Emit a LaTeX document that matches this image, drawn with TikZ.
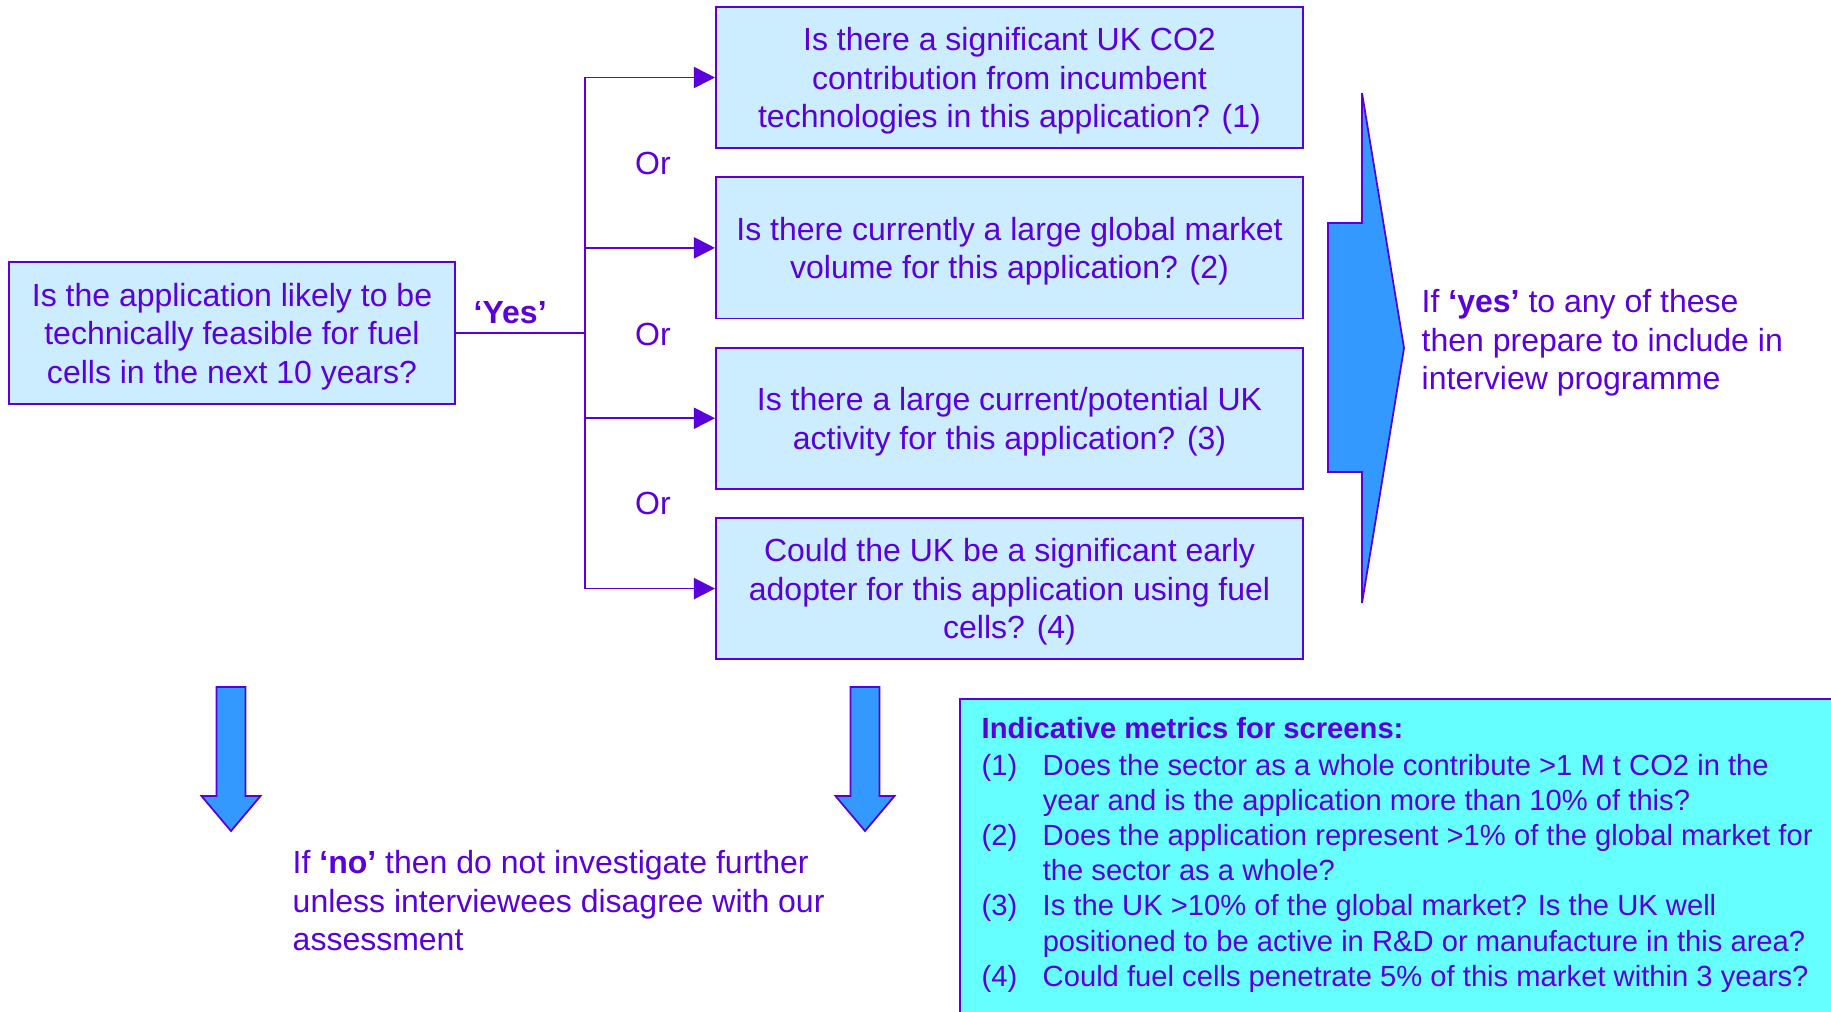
\documentclass[tikz,border=0pt]{standalone}
\usepackage{fontspec}
\setmainfont{Liberation Sans}
\usepackage{tikz}
\usetikzlibrary{arrows.meta, positioning}
\definecolor{ink}{RGB}{90,0,220}
\definecolor{boxblue}{RGB}{204,236,255}
\definecolor{arrowblue}{RGB}{51,153,255}
\definecolor{metriccyan}{RGB}{102,255,255}
\tikzset{
  qbox/.style={rectangle,draw=ink,fill=boxblue,line width=0.5pt,
               minimum width=5.87cm,minimum height=1.41cm,inner sep=0pt,
               font=\fontsize{9.1}{10.95}\selectfont,text=ink,align=center,text depth=0pt},
  txt/.style={font=\fontsize{9.1}{10.95}\selectfont,text=ink,inner sep=0pt},
  arr/.style={-{Triangle[length=0.21cm,width=0.21cm]},line width=0.5pt,draw=ink},
  conn/.style={line width=0.5pt,draw=ink},
  fat/.style={draw=ink,fill=arrowblue,line width=0.5pt,line join=miter},
}

\begin{document}
\begin{tikzpicture}[x=0.01cm,y=-0.01cm,node distance=0.275cm]
  \useasboundingbox (0,0) rectangle (1831,1011);
  \node[qbox,minimum width=4.46cm,minimum height=1.42cm](feas) at (232,333)
    {Is the application likely to be\\technically feasible for fuel\\cells in the next 10 years?};
  \node[qbox](q1) at (1009.5,77.5)
    {Is there a significant UK CO2\\contribution from incumbent\\technologies in this application? (1)};
  \node[qbox,below=of q1](q2){Is there currently a large global market\\volume for this application? (2)};
  \node[qbox,below=of q2](q3){Is there a large current/potential UK\\activity for this application? (3)};
  \node[qbox,below=of q3](q4){Could the UK be a significant early\\adopter for this application using fuel\\cells? (4)};
  \coordinate (split) at (585,333);
  \draw[conn](feas)--node[txt,above=2.3pt,pos=0.42](yes){\textbf{‘Yes’}}(split);
  \foreach \q in {q1,q2,q3,q4}
    \draw[arr](split)|-(\q.west);
  \node[txt](or1) at (653,163){Or};
  \node[txt](or2) at (653,334){Or};
  \node[txt](or3) at (653,503){Or};
  \draw[fat](1362,93)--(1404,348)--(1362,603)--(1362,472)--(1328,472)--(1328,223)--(1362,223)--cycle;
  \node[txt,anchor=west,align=left](yesnote) at (1421,343)
    {If \textbf{‘yes’} to any of these\\then prepare to include in\\interview programme};
  \foreach \cx in {231,865}
    \draw[fat](\cx-14.5,687)--(\cx+14.5,687)--(\cx+14.5,796)--(\cx+29.5,796)--(\cx,831)
      --(\cx-29.5,796)--(\cx-14.5,796)--cycle;
  \node[txt,anchor=west,align=left](nonote) at (292,901)
    {If \textbf{‘no’} then do not investigate further\\unless interviewees disagree with our\\assessment};
  \draw[conn,fill=metriccyan](960,699) rectangle (1840,1020);
  \node[anchor=north west,inner sep=0pt,text=ink,font=\fontsize{8.3}{10}\selectfont](metrics) at (981,713){%
    \begin{tabular}{@{}p{0.61cm}@{}l@{}}
      \multicolumn{2}{@{}l@{}}{\textbf{Indicative metrics for screens:}}\\[0.5pt]
      (1) & Does the sector as a whole contribute >1 M t CO2 in the\\
          & year and is the application more than 10\% of this?\\
      (2) & Does the application represent >1\% of the global market for\\
          & the sector as a whole?\\
      (3) & Is the UK >10\% of the global market? Is the UK well\\
          & positioned to be active in R\&D or manufacture in this area?\\
      (4) & Could fuel cells penetrate 5\% of this market within 3 years?
    \end{tabular}};
\end{tikzpicture}
\end{document}
